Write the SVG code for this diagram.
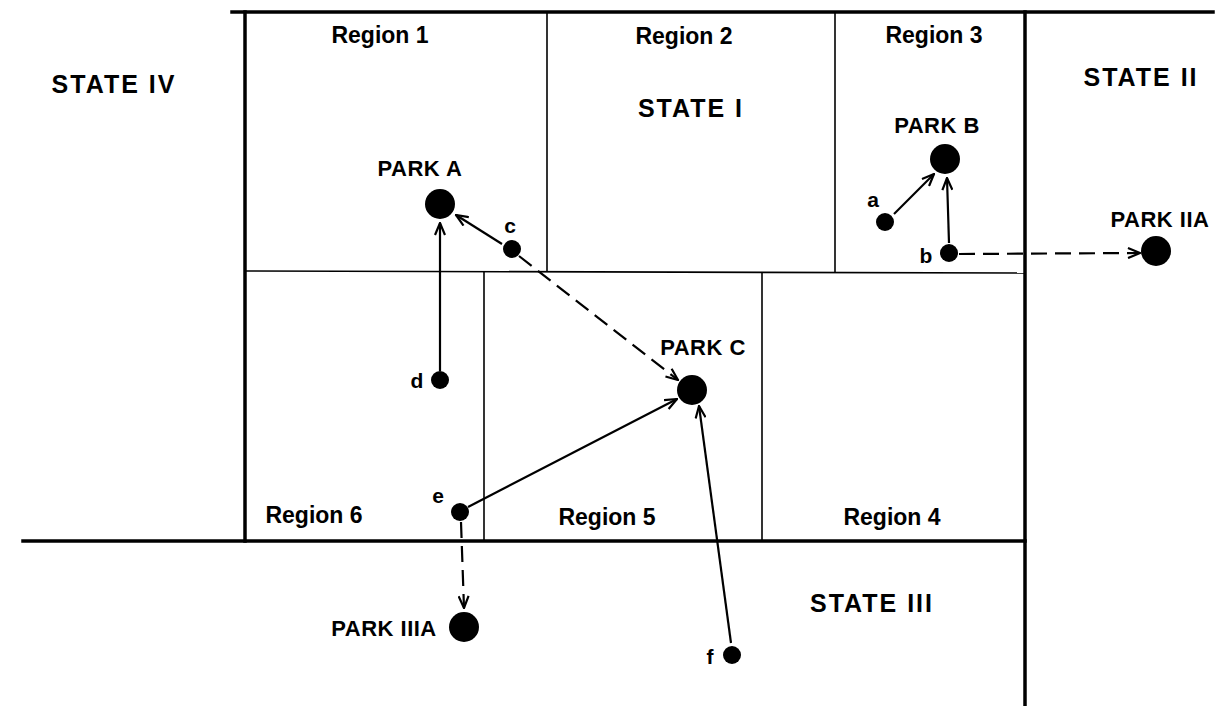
<svg xmlns="http://www.w3.org/2000/svg" width="1223" height="706" viewBox="0 0 1223 706">
  <style>
    .bg { fill: #ffffff; }
    .border { stroke: #000; stroke-width: 3.5; fill: none; stroke-linecap: square; }
    .divider { stroke: #000; stroke-width: 1.6; fill: none; }
    .link { stroke: #000; stroke-width: 2.2; fill: none; marker-end: url(#chevron); }
    .dashed { stroke-dasharray: 16 8; }
    .park { fill: #000; }
    .site { fill: #000; }
    .region { font-family: "Liberation Sans", Arial, sans-serif; font-weight: bold; font-size: 23px; fill: #000; text-anchor: middle; }
    .state { font-family: "Liberation Sans", Arial, sans-serif; font-weight: bold; font-size: 25px; letter-spacing: 2px; fill: #000; text-anchor: middle; }
    .parklabel { font-family: "Liberation Sans", Arial, sans-serif; font-weight: bold; font-size: 22px; letter-spacing: 0.5px; fill: #000; text-anchor: middle; }
    .letter { font-family: "Liberation Sans", Arial, sans-serif; font-weight: bold; font-size: 21px; fill: #000; text-anchor: middle; }
  </style>
  <defs>
    <marker id="chevron" viewBox="0 0 14 12" refX="13" refY="6" markerWidth="14" markerHeight="12" markerUnits="userSpaceOnUse" orient="auto">
      <path d="M1,1 L13,6 L1,11" fill="none" stroke="#000" stroke-width="2.2" stroke-dasharray="none"/>
    </marker>
  </defs>

  <rect class="bg" x="0" y="0" width="1223" height="706"/>

  <!-- state borders -->
  <g id="borders">
    <line class="border" x1="232" y1="12" x2="1213" y2="12"/>
    <line class="border" x1="245" y1="12" x2="245" y2="541"/>
    <line class="border" x1="23" y1="541" x2="1025" y2="541"/>
    <line class="border" x1="1025" y1="12" x2="1025" y2="706"/>
  </g>

  <!-- region boundaries inside State I -->
  <g id="regions">
    <line class="divider" x1="547" y1="12" x2="547" y2="272"/>
    <line class="divider" x1="835" y1="12" x2="835" y2="273"/>
    <line class="divider" x1="245" y1="271" x2="1025" y2="273"/>
    <line class="divider" x1="484" y1="272" x2="484" y2="541"/>
    <line class="divider" x1="762" y1="272" x2="762" y2="541"/>
  </g>

  <!-- area labels -->
  <g id="labels">
    <text class="region" x="380" y="43">Region 1</text>
    <text class="region" x="684" y="44">Region 2</text>
    <text class="region" x="934" y="43">Region 3</text>
    <text class="region" x="892" y="525">Region 4</text>
    <text class="region" x="607" y="525">Region 5</text>
    <text class="region" x="314" y="523">Region 6</text>
    <text class="state" x="691" y="117">STATE I</text>
    <text class="state" x="1141" y="86">STATE II</text>
    <text class="state" x="872" y="612">STATE III</text>
    <text class="state" x="114" y="93">STATE IV</text>
  </g>

  <!-- connectors -->
  <g id="connectors">
    <line class="link" x1="440" y1="371" x2="440" y2="223"/>
    <line class="link" x1="502" y1="244" x2="456" y2="215"/>
    <line class="link dashed" x1="519" y1="256" x2="678" y2="380"/>
    <line class="link" x1="468" y1="507" x2="677" y2="399"/>
    <line class="link" x1="731" y1="643" x2="699" y2="406"/>
    <line class="link dashed" x1="461" y1="522" x2="464" y2="608"/>
    <line class="link" x1="894" y1="214" x2="934" y2="174"/>
    <line class="link" x1="949" y1="243" x2="947" y2="178"/>
    <line class="link dashed" x1="959" y1="254" x2="1140" y2="253"/>
  </g>

  <!-- parks -->
  <g id="park-a">
    <circle class="park" cx="440" cy="204" r="15"/>
    <text class="parklabel" x="420" y="176">PARK A</text>
  </g>
  <g id="park-b">
    <circle class="park" cx="945" cy="159" r="15"/>
    <text class="parklabel" x="937" y="133">PARK B</text>
  </g>
  <g id="park-c">
    <circle class="park" cx="692" cy="390" r="15"/>
    <text class="parklabel" x="703" y="355">PARK C</text>
  </g>
  <g id="park-iia">
    <circle class="park" cx="1156" cy="251" r="15"/>
    <text class="parklabel" x="1160" y="227">PARK IIA</text>
  </g>
  <g id="park-iiia">
    <circle class="park" cx="464" cy="627" r="15"/>
    <text class="parklabel" x="384" y="636">PARK IIIA</text>
  </g>

  <!-- visitor origins -->
  <g id="site-a">
    <circle class="site" cx="885" cy="222" r="9"/>
    <text class="letter" x="873" y="207">a</text>
  </g>
  <g id="site-b">
    <circle class="site" cx="949" cy="253" r="9"/>
    <text class="letter" x="926" y="263">b</text>
  </g>
  <g id="site-c">
    <circle class="site" cx="512" cy="249" r="9"/>
    <text class="letter" x="510" y="233">c</text>
  </g>
  <g id="site-d">
    <circle class="site" cx="440" cy="380" r="9"/>
    <text class="letter" x="417" y="388">d</text>
  </g>
  <g id="site-e">
    <circle class="site" cx="460" cy="512" r="9"/>
    <text class="letter" x="438" y="503">e</text>
  </g>
  <g id="site-f">
    <circle class="site" cx="732" cy="655" r="9"/>
    <text class="letter" x="710" y="664">f</text>
  </g>
</svg>
